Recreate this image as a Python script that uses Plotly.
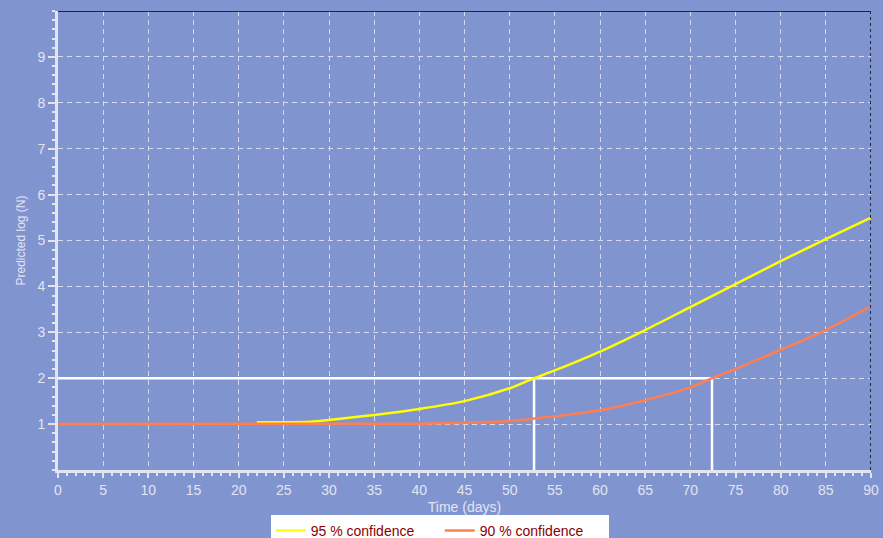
import plotly.graph_objects as go

# Predicted growth curves (log N) over storage time
days_95 = [22, 28, 30, 35, 40, 45, 50, 52.7, 55, 60, 65, 70, 75, 80, 85, 90]
logn_95 = [1.04, 1.05, 1.09, 1.2, 1.33, 1.5, 1.78, 2.0, 2.17, 2.58, 3.05, 3.55, 4.05, 4.55, 5.03, 5.5]

days_90 = [0, 40, 45, 50, 52.7, 55, 60, 65, 70, 72.4, 75, 80, 85, 90]
logn_90 = [1.0, 1.01, 1.03, 1.07, 1.12, 1.17, 1.3, 1.52, 1.8, 2.0, 2.2, 2.62, 3.05, 3.57]

# Acceptance limit and the times each curve reaches it
limit_logn = 2.0
limit_days = [52.7, 72.4]

x_ticks = list(range(0, 91, 5))
y_ticks = list(range(1, 10))

bg = "#8094D0"
light = "#E2E4F0"
grid = "#D4D9EE"

fig = go.Figure()

# limit lines (horizontal to the later crossing, verticals down to the axis)
fig.add_trace(go.Scatter(x=[0, max(limit_days)], y=[limit_logn, limit_logn], mode="lines",
                         line=dict(color="white", width=2.5), showlegend=False, hoverinfo="skip"))
for d in limit_days:
    fig.add_trace(go.Scatter(x=[d, d], y=[0, limit_logn], mode="lines",
                             line=dict(color="white", width=2.5), showlegend=False, hoverinfo="skip"))

fig.add_trace(go.Scatter(x=days_95, y=logn_95, mode="lines", name="95 % confidence",
                         line=dict(color="#FFFF00", width=2.5, shape="spline", smoothing=0.8)))
fig.add_trace(go.Scatter(x=days_90, y=logn_90, mode="lines", name="90 % confidence",
                         line=dict(color="#FF7F50", width=2.5, shape="spline", smoothing=0.8)))

# frame: black top edge, dashed dark right edge
fig.add_shape(type="line", xref="x", yref="y", x0=0, x1=90, y0=10, y1=10,
              line=dict(color="black", width=1.5))
fig.add_shape(type="line", xref="x", yref="y", x0=90, x1=90, y0=0, y1=10,
              line=dict(color="#1E2640", width=2, dash="dot"))

font_family = "Liberation Sans, Arial, sans-serif"

fig.update_layout(
    width=883, height=538,
    margin=dict(l=58, r=12, t=11, b=68, autoexpand=False),
    paper_bgcolor=bg, plot_bgcolor=bg,
    font=dict(family=font_family, color=light, size=14),
    showlegend=True,
    legend=dict(orientation="h", xref="container", yref="container",
                x=0.498, xanchor="center", y=1 - 515 / 538, yanchor="top",
                bgcolor="white", borderwidth=0,
                font=dict(color="#8B0000", size=14, family=font_family),
                itemwidth=30, tracegroupgap=0,
                entrywidth=124, entrywidthmode="pixels"),
)

fig.update_xaxes(
    range=[0, 90], tickvals=x_ticks, ticktext=[str(v) for v in x_ticks],
    automargin=False,
    showgrid=True, gridcolor=grid, griddash="5px,4px", gridwidth=1.3,
    zeroline=False, showline=True, linecolor=light, linewidth=3,
    ticks="outside", ticklen=5, tickcolor=light, tickwidth=1.5,
    minor=dict(dtick=1, ticks="outside", ticklen=3, tickcolor=light, showgrid=False),
    tickfont=dict(color=light, size=14),
    title=dict(text="Time (days)", font=dict(color=light, size=14), standoff=6),
)
fig.update_yaxes(
    range=[0, 10], tickvals=y_ticks, ticktext=[str(v) for v in y_ticks],
    automargin=False,
    showgrid=True, gridcolor=grid, griddash="5px,4px", gridwidth=1.3,
    zeroline=False, showline=True, linecolor=light, linewidth=3,
    ticks="outside", ticklen=7, tickcolor=light, tickwidth=1.5,
    minor=dict(dtick=0.2, ticks="outside", ticklen=3, tickcolor=light, showgrid=False),
    tickfont=dict(color=light, size=14),
    title=dict(text="Predicted log (N)", font=dict(color=light, size=12), standoff=10),
)

fig.write_html("out.html")
